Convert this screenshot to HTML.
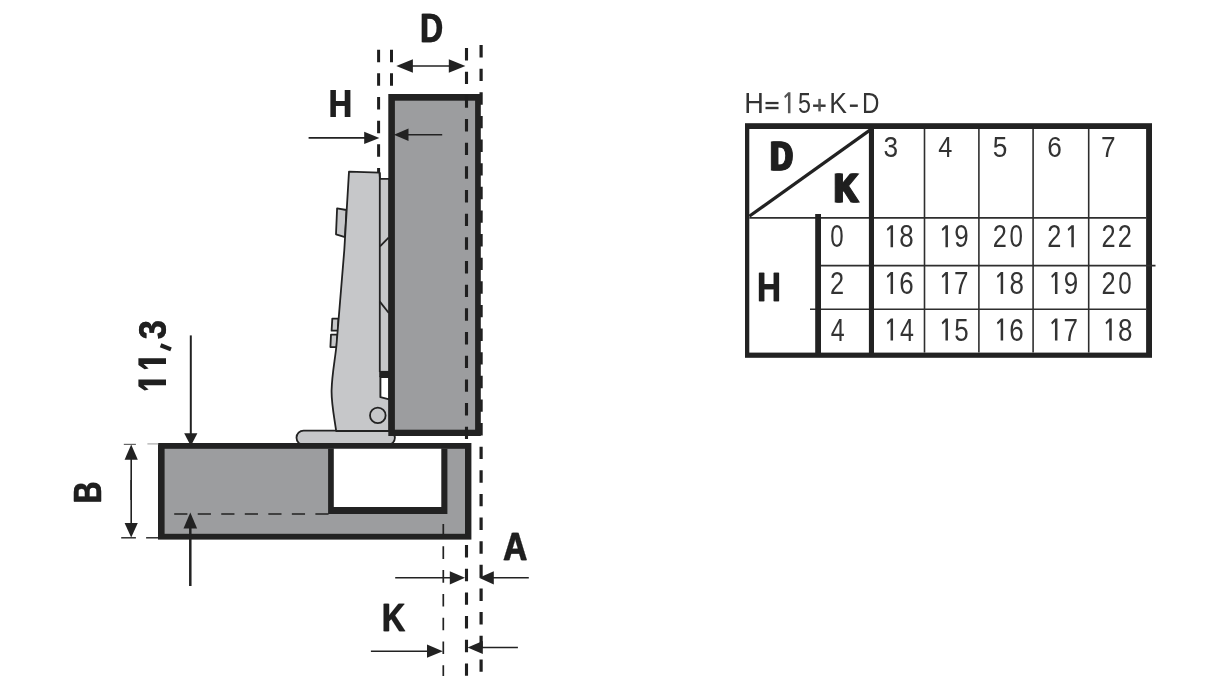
<!DOCTYPE html>
<html>
<head>
<meta charset="utf-8">
<title>Hinge diagram</title>
<style>
html,body{margin:0;padding:0;background:#fff;}
body{width:1224px;height:700px;overflow:hidden;font-family:"Liberation Sans",sans-serif;}
svg{display:block;will-change:transform;}
text{font-family:"Liberation Sans",sans-serif;}
.b{font-family:"Liberation Sans",sans-serif;font-weight:bold;stroke-linejoin:miter;}
.b text{font-weight:bold;}
</style>
</head>
<body>
<svg width="1224" height="700" viewBox="0 0 1224 700">
<rect x="0" y="0" width="1224" height="700" fill="#ffffff"/>

<!-- ================= DRAWING ================= -->
<g id="drawing">
  <g stroke="#1f1f1f" fill="none">
    <line x1="378.6" y1="49.7" x2="378.6" y2="173" stroke-width="3" stroke-dasharray="12.5 11.15"/>
    <line x1="391.5" y1="49.7" x2="391.5" y2="94" stroke-width="3" stroke-dasharray="12.5 11.15"/>
    <line x1="481.1" y1="45" x2="481.1" y2="673" stroke-width="3.2" stroke-dasharray="12.4 11.23"/>
  </g>
  <g stroke="#222" stroke-width="1.8" stroke-linejoin="round" fill="#c6c7c9">
    <polygon points="337.1,208.3 346.5,210 345,237.1 336,234.3"/>
    <polygon points="332.3,318.6 338.5,318.6 337.8,330.7 331.6,330.7"/>
    <polygon points="331,334.6 337.4,334.6 336.6,347.1 330.4,347.1"/>
    <rect x="296.5" y="430.6" width="98.4" height="14.3" rx="7.1" ry="7.1"/>
    <path d="M349,171.6 L379.5,172.6 L380,178.8 L389.4,178.8 L389.4,431 L336.2,431 C334,416 331.2,402 331.6,390 C332,374 335,360 336.4,346 L344.3,250 Z"/>
    <line x1="379.8" y1="172.6" x2="379.8" y2="372"/>
    <line x1="380" y1="246.4" x2="388.6" y2="237.7"/>
    <line x1="379.6" y1="301.4" x2="388.8" y2="313"/>
    <rect x="379.2" y="370.9" width="10" height="6.2" fill="#222" stroke="none"/>
    <polygon points="380.4,377 389.2,377 389.2,399.4 380.4,397.2" fill="#ffffff" stroke-width="1.9"/>
    <circle cx="377.8" cy="415.4" r="7.8"/>
  </g>
  <rect x="388.3" y="94.0" width="92.5" height="342.0" fill="#222"/>
  <rect x="394.9" y="100.7" width="80.2" height="329.0" fill="#9c9d9f"/>
  <line x1="466.5" y1="48" x2="466.5" y2="676" stroke="#1f1f1f" stroke-width="3.1" stroke-dasharray="12.4 11.27"/>
  <rect x="158.0" y="443" width="313.4" height="96.6" fill="#222"/>
  <rect x="164.6" y="448.8" width="300.4" height="85" fill="#9c9d9f"/>
  <rect x="328.1" y="448.8" width="119.3" height="65.2" fill="#222"/>
  <rect x="333.8" y="448.8" width="107.5" height="58.2" fill="#ffffff"/>
  <line x1="174.2" y1="514" x2="329" y2="514" stroke="#222" stroke-width="1.7" stroke-dasharray="13.2 10.33"/>
  <line x1="443.3" y1="524" x2="443.3" y2="676" stroke="#222" stroke-width="1.7" stroke-dasharray="12.6 11.2" stroke-dashoffset="1.5"/>
  <g>
    <polygon points="396.3,66 412.90000000000003,59.3 412.90000000000003,72.7" fill="#222"/>
    <polygon points="465.4,66 448.79999999999995,59.3 448.79999999999995,72.7" fill="#222"/>
    <line x1="450.79999999999995" y1="66" x2="411" y2="66" stroke="#222" stroke-width="1.6"/>
    <polygon points="379.4,137.9 364.2,131.70000000000002 364.2,144.1" fill="#222"/>
    <line x1="366.2" y1="137.9" x2="308.6" y2="137.9" stroke="#222" stroke-width="1.6"/>
    <polygon points="393.9,134.8 408.5,128.60000000000002 408.5,141.0" fill="#222"/>
    <line x1="406.5" y1="134.8" x2="442.2" y2="134.8" stroke="#222" stroke-width="1.6"/>
    <polygon points="190.8,446 184.20000000000002,433.2 197.4,433.2" fill="#222"/>
    <line x1="190.8" y1="435.2" x2="190.8" y2="335.4" stroke="#222" stroke-width="2"/>
    <polygon points="190.3,512.6 183.5,528.6 197.10000000000002,528.6" fill="#222"/>
    <line x1="190.3" y1="526.6" x2="190.3" y2="586" stroke="#222" stroke-width="2.5"/>
    <polygon points="131.2,444.6 124.6,459.8 137.79999999999998,459.8" fill="#222"/>
    <line x1="131.2" y1="457.8" x2="131.2" y2="500" stroke="#222" stroke-width="1.6"/>
    <polygon points="131.2,537.6 124.6,523.0 137.79999999999998,523.0" fill="#222"/>
    <line x1="131.2" y1="525.0" x2="131.2" y2="480" stroke="#222" stroke-width="1.6"/>
    <line x1="121.2" y1="537.8" x2="135.9" y2="537.8" stroke="#222" stroke-width="1.4"/>
    <line x1="146.1" y1="537.8" x2="158.4" y2="537.8" stroke="#222" stroke-width="1.4"/>
    <line x1="123.8" y1="444.4" x2="135.9" y2="444.4" stroke="#666" stroke-width="1.2"/>
    <line x1="147.4" y1="443.9" x2="158.4" y2="443.9" stroke="#aaa" stroke-width="1.2"/>
    <polygon points="465,577.8 449.8,571.1999999999999 449.8,584.4" fill="#222"/>
    <line x1="451.8" y1="577.8" x2="395.2" y2="577.8" stroke="#222" stroke-width="1.6"/>
    <polygon points="479,577.8 493.8,571.1999999999999 493.8,584.4" fill="#222"/>
    <line x1="491.8" y1="577.8" x2="528.8" y2="577.8" stroke="#222" stroke-width="1.6"/>
    <polygon points="442.8,651.2 427.0,644.6 427.0,657.8000000000001" fill="#222"/>
    <line x1="429.0" y1="651.2" x2="370.9" y2="651.2" stroke="#222" stroke-width="1.6"/>
    <polygon points="467.6,647.5 482.8,640.9 482.8,654.1" fill="#222"/>
    <line x1="480.8" y1="647.5" x2="517.9" y2="647.5" stroke="#222" stroke-width="1.6"/>
  </g>
  <g transform="translate(420.10,42.10)" font-size="39.83" class="b" stroke-width="0.3" fill="#1f1f1f" stroke="#1f1f1f"><text transform="translate(-0.45,0) scale(0.7968,1)">D</text><text transform="translate(0.45,0) scale(0.7968,1)">D</text></g>
  <g transform="translate(328.61,116.75)" font-size="39.39" class="b" stroke-width="0.2" fill="#1f1f1f" stroke="#1f1f1f"><text transform="translate(-0.45,0) scale(0.8263,1)">H</text><text transform="translate(0.45,0) scale(0.8263,1)">H</text></g>
  <g transform="translate(503.20,559.50)" font-size="39.39" class="b" stroke-width="0.3" fill="#1f1f1f" stroke="#1f1f1f"><text transform="translate(-0.45,0) scale(0.8419,1)">A</text><text transform="translate(0.45,0) scale(0.8419,1)">A</text></g>
  <g transform="translate(381.87,630.50)" font-size="38.81" class="b" stroke-width="0.3" fill="#1f1f1f" stroke="#1f1f1f"><text transform="translate(-0.45,0) scale(0.8317,1)">K</text><text transform="translate(0.45,0) scale(0.8317,1)">K</text></g>
  <g transform="translate(100.70,503.36) rotate(-90)" font-size="39.39" class="b" stroke-width="0.3" fill="#1f1f1f" stroke="#1f1f1f"><text transform="translate(-0.4,0) scale(0.7688,1)">B</text><text transform="translate(0.4,0) scale(0.7688,1)">B</text></g>
  <g transform="translate(165.51,339.25) rotate(-90)" font-size="38.90" class="b" stroke-width="0.2" fill="#1f1f1f" stroke="#1f1f1f"><text transform="translate(-0.2,0) scale(0.8804,1)">3</text><text transform="translate(0.2,0) scale(0.8804,1)">3</text></g>
  <line x1="160.6" y1="345.3" x2="171.0" y2="349.4" stroke="#1f1f1f" stroke-width="4.2"/>
  <polygon fill="#1f1f1f" points="166.00,379.50 138.40,379.50 138.40,386.30 144.60,390.40 148.60,389.60 143.60,385.30 166.00,385.30"/>
  <polygon fill="#1f1f1f" points="166.00,358.30 138.40,358.30 138.40,365.10 144.60,369.20 148.60,368.40 143.60,364.10 166.00,364.10"/>
</g>

<!-- ================= TABLE ================= -->
<g id="table">
  <g>
    <text font-size="30.0" fill="#333" transform="translate(744.22,113.3) scale(0.9070,1)">H</text>
    <rect x="765.5" y="101.9" width="13.0" height="2.3" fill="#333"/><rect x="765.5" y="106.8" width="13.0" height="2.4" fill="#333"/>
    <polygon fill="#555" points="790.45,113.30 790.45,92.30 788.15,92.30 784.20,96.20 785.10,98.20 787.95,95.40 787.95,113.30"/>
    <text font-size="30.0" fill="#333" transform="translate(797.92,113.3) scale(0.7734,1)">5</text>
    <rect x="813.1" y="104.5" width="12.5" height="2.4" fill="#333"/><rect x="818.3" y="98.9" width="2.5" height="12.5" fill="#555"/>
    <text font-size="30.0" fill="#333" transform="translate(829.18,113.3) scale(0.8831,1)">K</text>
    <rect x="849.9" y="104.5" width="7.9" height="2.4" fill="#333"/>
    <text font-size="30.0" fill="#333" transform="translate(861.97,113.3) scale(0.8048,1)">D</text>
  </g>
  <rect x="745" y="123.2" width="407" height="234.6" fill="#222"/>
  <rect x="749.3" y="129" width="396.8" height="223.6" fill="#ffffff"/>
  <g stroke="#2e2e2e" stroke-width="1.6" fill="none">
    <line x1="924.5" y1="129" x2="924.5" y2="352.6"/>
    <line x1="978.9" y1="129" x2="978.9" y2="352.6"/>
    <line x1="1033.1" y1="129" x2="1033.1" y2="352.6"/>
    <line x1="1088.7" y1="129" x2="1088.7" y2="352.6"/>
    <line x1="749.3" y1="217.9" x2="1146.1" y2="217.9"/>
    <line x1="821" y1="265.6" x2="1155.5" y2="265.6"/>
    <line x1="810" y1="309.2" x2="1146.1" y2="309.2"/>
  </g>
  <rect x="868.9" y="129" width="5.1" height="224" fill="#222"/>
  <rect x="815.2" y="214" width="5.8" height="139" fill="#222"/>
  <line x1="749.3" y1="216.3" x2="870.6" y2="129.6" stroke="#222" stroke-width="3.2"/>
  <g transform="translate(770.34,170.15)" font-size="40.99" class="b" stroke-width="1.2" fill="#1f1f1f" stroke="#1f1f1f"><text transform="translate(-1.2,0) scale(0.7518,1)">D</text><text transform="translate(0,0) scale(0.7518,1)">D</text><text transform="translate(1.2,0) scale(0.7518,1)">D</text></g>
  <g transform="translate(834.32,201.95)" font-size="41.43" class="b" stroke-width="1.2" fill="#1f1f1f" stroke="#1f1f1f"><text transform="translate(-1.2,0) scale(0.7976,1)">K</text><text transform="translate(0,0) scale(0.7976,1)">K</text><text transform="translate(1.2,0) scale(0.7976,1)">K</text></g>
  <g transform="translate(757.00,300.70)" font-size="39.97" class="b" stroke-width="0.3" fill="#1f1f1f" stroke="#1f1f1f"><text transform="translate(-0.35,0) scale(0.8320,1)">H</text><text transform="translate(0.35,0) scale(0.8320,1)">H</text></g>
  <g>
    <text font-size="29.8" fill="#333" transform="translate(883.45,156.9) scale(0.8800,1)">3</text>
    <text font-size="29.8" fill="#333" transform="translate(938.27,156.9) scale(0.8500,1)">4</text>
    <text font-size="29.8" fill="#333" transform="translate(992.70,156.9) scale(0.8800,1)">5</text>
    <text font-size="29.8" fill="#333" transform="translate(1047.32,156.9) scale(0.8800,1)">6</text>
    <text font-size="29.8" fill="#333" transform="translate(1101.11,156.9) scale(0.8800,1)">7</text>
    <text font-size="31.3" fill="#333" transform="translate(830.31,247.2) scale(0.7700,1)">0</text>
    <text font-size="31.3" fill="#333" transform="translate(829.97,294.0) scale(0.8100,1)">2</text>
    <text font-size="31.3" fill="#333" transform="translate(830.68,340.6) scale(0.8000,1)">4</text>
    <polygon fill="#333" points="893.05,247.20 893.05,225.20 890.75,225.20 886.80,229.10 887.70,231.10 890.55,228.30 890.55,247.20"/>
    <text font-size="31.3" fill="#333" transform="translate(899.32,247.2) scale(0.8300,1)">8</text>
    <polygon fill="#333" points="947.95,247.20 947.95,225.20 945.65,225.20 941.70,229.10 942.60,231.10 945.45,228.30 945.45,247.20"/>
    <text font-size="31.3" fill="#333" transform="translate(954.13,247.2) scale(0.8300,1)">9</text>
    <text font-size="31.3" fill="#333" transform="translate(992.87,247.2) scale(0.8100,1)">2</text>
    <text font-size="31.3" fill="#333" transform="translate(1009.61,247.2) scale(0.7700,1)">0</text>
    <text font-size="31.3" fill="#333" transform="translate(1047.17,247.2) scale(0.8100,1)">2</text>
    <polygon fill="#333" points="1073.85,247.20 1073.85,225.20 1071.55,225.20 1067.60,229.10 1068.50,231.10 1071.35,228.30 1071.35,247.20"/>
    <text font-size="31.3" fill="#333" transform="translate(1101.47,247.2) scale(0.8100,1)">2</text>
    <text font-size="31.3" fill="#333" transform="translate(1117.87,247.2) scale(0.8100,1)">2</text>
    <polygon fill="#333" points="893.05,294.00 893.05,272.00 890.75,272.00 886.80,275.90 887.70,277.90 890.55,275.10 890.55,294.00"/>
    <text font-size="31.3" fill="#333" transform="translate(899.13,294.0) scale(0.8300,1)">6</text>
    <polygon fill="#333" points="947.95,294.00 947.95,272.00 945.65,272.00 941.70,275.90 942.60,277.90 945.45,275.10 945.45,294.00"/>
    <text font-size="31.3" fill="#333" transform="translate(954.02,294.0) scale(0.8300,1)">7</text>
    <polygon fill="#333" points="1003.15,294.00 1003.15,272.00 1000.85,272.00 996.90,275.90 997.80,277.90 1000.65,275.10 1000.65,294.00"/>
    <text font-size="31.3" fill="#333" transform="translate(1009.42,294.0) scale(0.8300,1)">8</text>
    <polygon fill="#333" points="1057.45,294.00 1057.45,272.00 1055.15,272.00 1051.20,275.90 1052.10,277.90 1054.95,275.10 1054.95,294.00"/>
    <text font-size="31.3" fill="#333" transform="translate(1063.63,294.0) scale(0.8300,1)">9</text>
    <text font-size="31.3" fill="#333" transform="translate(1101.47,294.0) scale(0.8100,1)">2</text>
    <text font-size="31.3" fill="#333" transform="translate(1118.21,294.0) scale(0.7700,1)">0</text>
    <polygon fill="#333" points="893.05,340.60 893.05,318.60 890.75,318.60 886.80,322.50 887.70,324.50 890.55,321.70 890.55,340.60"/>
    <text font-size="31.3" fill="#333" transform="translate(899.88,340.6) scale(0.8000,1)">4</text>
    <polygon fill="#333" points="947.95,340.60 947.95,318.60 945.65,318.60 941.70,322.50 942.60,324.50 945.45,321.70 945.45,340.60"/>
    <text font-size="31.3" fill="#333" transform="translate(954.31,340.6) scale(0.8300,1)">5</text>
    <polygon fill="#333" points="1003.15,340.60 1003.15,318.60 1000.85,318.60 996.90,322.50 997.80,324.50 1000.65,321.70 1000.65,340.60"/>
    <text font-size="31.3" fill="#333" transform="translate(1009.23,340.6) scale(0.8300,1)">6</text>
    <polygon fill="#333" points="1057.45,340.60 1057.45,318.60 1055.15,318.60 1051.20,322.50 1052.10,324.50 1054.95,321.70 1054.95,340.60"/>
    <text font-size="31.3" fill="#333" transform="translate(1063.52,340.6) scale(0.8300,1)">7</text>
    <polygon fill="#333" points="1111.75,340.60 1111.75,318.60 1109.45,318.60 1105.50,322.50 1106.40,324.50 1109.25,321.70 1109.25,340.60"/>
    <text font-size="31.3" fill="#333" transform="translate(1118.02,340.6) scale(0.8300,1)">8</text>
  </g>
</g>
</svg>
</body>
</html>
